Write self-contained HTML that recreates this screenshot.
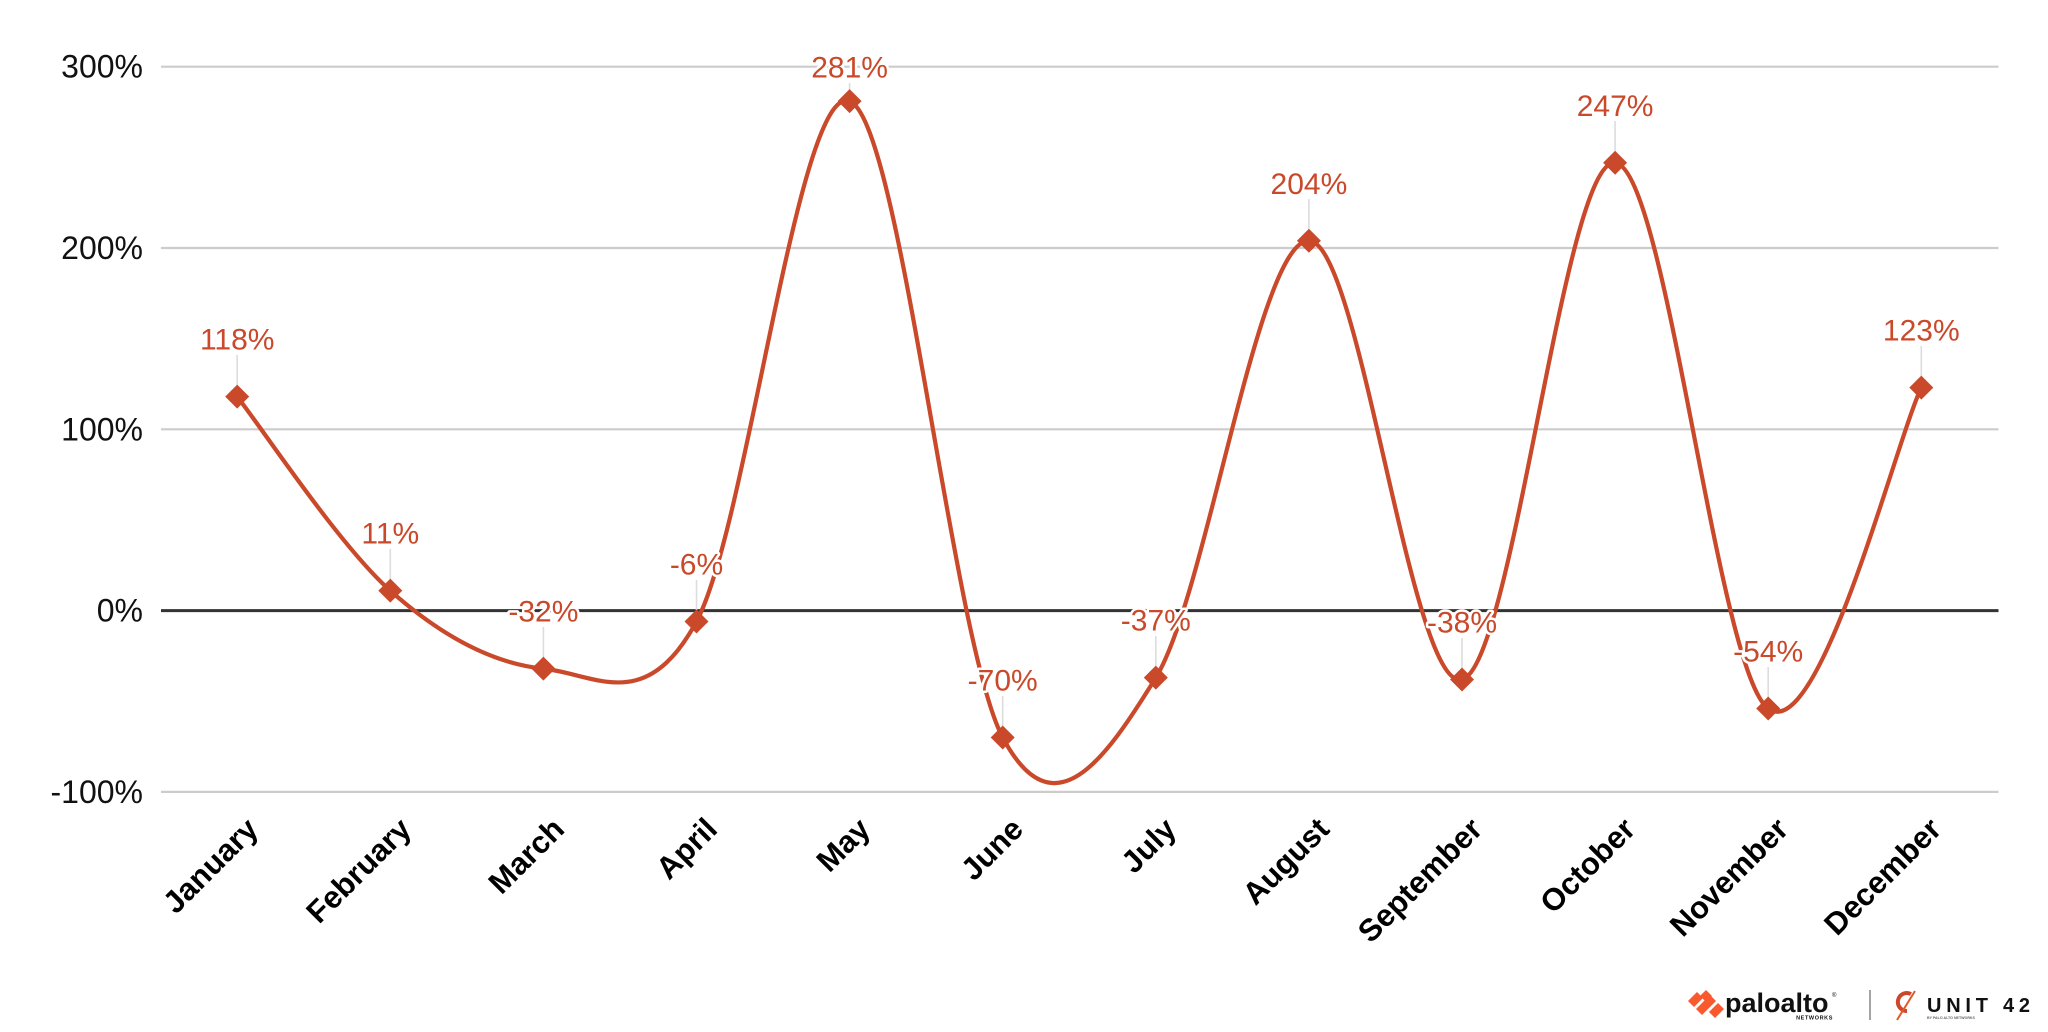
<!DOCTYPE html>
<html>
<head>
<meta charset="utf-8">
<style>
  html, body { margin: 0; padding: 0; background: #ffffff; }
  svg { display: block; }
  .ylab { font-family: "Liberation Sans", Arial, sans-serif; font-size: 32px; fill: #111; }
  .mlab { font-family: "Liberation Sans", Arial, sans-serif; font-size: 31px; font-weight: bold; fill: #000; }
  .dlab { font-family: "Liberation Sans", Arial, sans-serif; font-size: 30px; fill: #c9492a; stroke: #ffffff; stroke-width: 5px; paint-order: stroke; stroke-linejoin: round; }
</style>
</head>
<body>
<svg width="2048" height="1032" viewBox="0 0 2048 1032" xmlns="http://www.w3.org/2000/svg">
  <rect x="0" y="0" width="2048" height="1032" fill="#ffffff"/>

  <!-- gridlines -->
  <g stroke="#cccccc" stroke-width="2.2">
    <line x1="161" y1="66.7" x2="1998.5" y2="66.7"/>
    <line x1="161" y1="248.0" x2="1998.5" y2="248.0"/>
    <line x1="161" y1="429.3" x2="1998.5" y2="429.3"/>
    <line x1="161" y1="791.9" x2="1998.5" y2="791.9"/>
  </g>
  <line x1="161" y1="610.6" x2="1998.5" y2="610.6" stroke="#333333" stroke-width="3"/>

  <!-- y labels -->
  <g class="ylab" text-anchor="end">
    <text x="143" y="77.7">300%</text>
    <text x="143" y="259.0">200%</text>
    <text x="143" y="440.3">100%</text>
    <text x="143" y="621.6">0%</text>
    <text x="143" y="802.9">-100%</text>
  </g>

  <!-- leader lines -->
  <g stroke="#dddddd" stroke-width="1.6">
    <line x1="237.2" y1="355" x2="237.2" y2="385"/>
    <line x1="390.3" y1="549" x2="390.3" y2="579"/>
    <line x1="543.4" y1="627" x2="543.4" y2="657"/>
    <line x1="696.5" y1="580" x2="696.5" y2="610"/>
    <line x1="849.6" y1="83" x2="849.6" y2="90"/>
    <line x1="1002.7" y1="696" x2="1002.7" y2="726"/>
    <line x1="1155.8" y1="636" x2="1155.8" y2="666"/>
    <line x1="1308.9" y1="199" x2="1308.9" y2="229"/>
    <line x1="1462.0" y1="638" x2="1462.0" y2="668"/>
    <line x1="1615.1" y1="121" x2="1615.1" y2="151"/>
    <line x1="1768.2" y1="667" x2="1768.2" y2="697"/>
    <line x1="1921.3" y1="346" x2="1921.3" y2="376"/>
  </g>

  <!-- series line -->
  <path fill="none" stroke="#c9492a" stroke-width="4.2" stroke-linejoin="round" stroke-linecap="round"
    d="M237.2,396.67
       C262.72,429.0 339.27,545.33 390.3,590.66
       C441.33,635.99 492.37,663.48 543.4,668.62
       C594.43,673.76 645.47,716.06 696.5,621.48
       C747.53,526.90 798.57,81.81 849.6,101.15
       C900.63,120.49 951.67,641.42 1002.7,737.51
       C1053.73,833.60 1104.77,760.47 1155.8,677.68
       C1206.83,594.89 1257.87,240.45 1308.9,240.75
       C1359.93,241.05 1410.97,692.48 1462.0,679.49
       C1513.03,666.50 1564.07,157.95 1615.1,162.79
       C1666.13,167.63 1717.17,671.03 1768.2,708.50
       C1819.23,745.97 1895.78,441.08 1921.3,387.6"/>

  <!-- markers (diamonds) -->
  <g fill="#c9492a">
    <path d="M237.2,384.67 L249.2,396.67 L237.2,408.67 L225.2,396.67 Z"/>
    <path d="M390.3,578.66 L402.3,590.66 L390.3,602.66 L378.3,590.66 Z"/>
    <path d="M543.4,656.62 L555.4,668.62 L543.4,680.62 L531.4,668.62 Z"/>
    <path d="M696.5,609.48 L708.5,621.48 L696.5,633.48 L684.5,621.48 Z"/>
    <path d="M849.6,89.15 L861.6,101.15 L849.6,113.15 L837.6,101.15 Z"/>
    <path d="M1002.7,725.51 L1014.7,737.51 L1002.7,749.51 L990.7,737.51 Z"/>
    <path d="M1155.8,665.68 L1167.8,677.68 L1155.8,689.68 L1143.8,677.68 Z"/>
    <path d="M1308.9,228.75 L1320.9,240.75 L1308.9,252.75 L1296.9,240.75 Z"/>
    <path d="M1462.0,667.49 L1474.0,679.49 L1462.0,691.49 L1450.0,679.49 Z"/>
    <path d="M1615.1,150.79 L1627.1,162.79 L1615.1,174.79 L1603.1,162.79 Z"/>
    <path d="M1768.2,696.50 L1780.2,708.50 L1768.2,720.50 L1756.2,708.50 Z"/>
    <path d="M1921.3,375.6 L1933.3,387.6 L1921.3,399.6 L1909.3,387.6 Z"/>
  </g>

  <!-- data labels -->
  <g class="dlab" text-anchor="middle">
    <text x="237.2" y="349.7">118%</text>
    <text x="390.3" y="543.7">11%</text>
    <text x="543.4" y="621.6">-32%</text>
    <text x="696.5" y="574.5">-6%</text>
    <text x="849.6" y="77.5">281%</text>
    <text x="1002.7" y="690.5">-70%</text>
    <text x="1155.8" y="630.7">-37%</text>
    <text x="1308.9" y="193.8">204%</text>
    <text x="1462.0" y="632.5">-38%</text>
    <text x="1615.1" y="115.8">247%</text>
    <text x="1768.2" y="661.5">-54%</text>
    <text x="1921.3" y="340.6">123%</text>
  </g>

  <!-- month labels -->
  <g class="mlab" text-anchor="end">
    <text transform="translate(260,831) rotate(-45)">January</text>
    <text transform="translate(413,831) rotate(-45)">February</text>
    <text transform="translate(566,831) rotate(-45)">March</text>
    <text transform="translate(719,831) rotate(-45)">April</text>
    <text transform="translate(872,831) rotate(-45)">May</text>
    <text transform="translate(1025,831) rotate(-45)">June</text>
    <text transform="translate(1178,831) rotate(-45)">July</text>
    <text transform="translate(1331,831) rotate(-45)">August</text>
    <text transform="translate(1484,831) rotate(-45)">September</text>
    <text transform="translate(1637,831) rotate(-45)">October</text>
    <text transform="translate(1790,831) rotate(-45)">November</text>
    <text transform="translate(1943,831) rotate(-45)">December</text>
  </g>

  <!-- logos -->
  <g>
    <!-- palo alto icon -->
    <g fill="#fa582d">
      <polygon points="1688,1001 1697,992 1703,998 1694,1007"/>
      <polygon points="1696,1009 1710,995 1716,1001 1702,1015"/>
      <polygon points="1709,1012 1718,1003 1724,1009 1715,1018"/>
      <polygon points="1700,996 1706,990 1712,996 1706,1002"/>
    </g>
    <text x="1725" y="1012" font-family="Liberation Sans, Arial, sans-serif" font-weight="bold" font-size="27" fill="#111">paloalto</text>
    <text x="1832" y="997" font-family="Liberation Sans, Arial, sans-serif" font-size="6" fill="#111">®</text>
    <text x="1833" y="1019.5" text-anchor="end" font-family="Liberation Sans, Arial, sans-serif" font-weight="bold" font-size="5.5" letter-spacing="0.6" fill="#111">NETWORKS</text>
    <line x1="1870" y1="990" x2="1870" y2="1020" stroke="#666" stroke-width="1.2"/>
    <!-- unit 42 icon -->
    <path d="M1911,994 A9,9 0 1,0 1907,1011" fill="none" stroke="#c9492a" stroke-width="4"/>
    <line x1="1915" y1="991" x2="1897" y2="1020" stroke="#e05a2b" stroke-width="2"/>
    <text x="1927" y="1012" font-family="Liberation Sans, Arial, sans-serif" font-weight="bold" font-size="20" textLength="103" lengthAdjust="spacing" fill="#111">UNIT 42</text>
    <text x="1927" y="1019" font-family="Liberation Sans, Arial, sans-serif" font-weight="bold" font-size="3.6" fill="#666">BY PALO ALTO NETWORKS</text>
  </g>
</svg>
</body>
</html>
